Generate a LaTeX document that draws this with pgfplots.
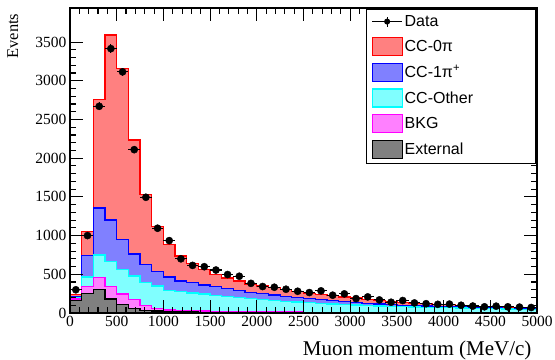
\documentclass[border=0pt]{standalone}
\usepackage{pgfplots}
\usepackage{pgfplotstable}
\pgfplotsset{compat=1.18}
\usepackage{fontspec}
\setmainfont{Liberation Serif}
\newfontfamily\legfont{Liberation Sans}
\definecolor{fred}{RGB}{255,128,128}
\definecolor{fblue}{RGB}{128,128,255}
\definecolor{fcyan}{RGB}{128,255,255}
\definecolor{fmag}{RGB}{255,128,255}
\definecolor{fgray}{RGB}{128,128,128}
\definecolor{lred}{RGB}{255,0,0}
\definecolor{lblue}{RGB}{0,0,255}
\definecolor{lcyan}{RGB}{0,255,255}
\definecolor{lmag}{RGB}{255,0,255}

\pgfplotstableread{
x r b c m g
0 240 215 200 180 160
125 1050 745 466 340 250
250 2757 1355 750 455 305
375 3590 1200 664 340 182
500 3155 953 564 245 110
625 2235 763 478 175 60
750 1530 630 392 100 35
875 1120 535 349 56 25
1000 885 466 295 40 18
1125 737 415 280 32 14
1250 640 395 260 28 12
1375 565 362 245 24 10
1500 497 338 230 22 9
1625 452 314 216 20 8
1750 415 292 200 18 7
1875 374 266 186 16 6
2000 350 250 176 15 6
2125 328 232 165 14 5
2250 305 212 153 13 5
2375 275 197 142 12 5
2500 253 187 135 11 4
2625 243 175 126 11 4
2750 222 162 118 10 4
2875 208 150 110 10 4
3000 195 137 104 9 3
3125 178 127 96 9 3
3250 165 118 91 8 3
3375 147 110 87 8 3
3500 137 101 82 7 3
3625 127 96 78 7 3
3750 120 90 74 7 2
3875 113 85 70 6 2
4000 107 80 67 6 2
4125 100 76 63 6 2
4250 94 72 60 5 2
4375 88 68 57 5 2
4500 83 64 54 5 2
4625 78 61 51 5 2
4750 73 57 48 4 2
4875 68 54 45 4 2
5000 68 54 45 4 2
}\stack

\pgfplotstableread{
x y ex ey
62.5 300 62.5 17
187.5 1000 62.5 32
312.5 2670 62.5 52
437.5 3415 62.5 58
562.5 3115 62.5 56
687.5 2110 62.5 46
812.5 1495 62.5 39
937.5 1095 62.5 33
1062.5 935 62.5 31
1187.5 700 62.5 26
1312.5 615 62.5 25
1437.5 598 62.5 24
1562.5 555 62.5 24
1687.5 497 62.5 22
1812.5 475 62.5 22
1937.5 383 62.5 20
2062.5 342 62.5 18
2187.5 333 62.5 18
2312.5 307 62.5 18
2437.5 281 62.5 17
2562.5 264 62.5 16
2687.5 286 62.5 17
2812.5 230 62.5 15
2937.5 247 62.5 16
3062.5 186 62.5 14
3187.5 208 62.5 14
3312.5 169 62.5 13
3437.5 139 62.5 12
3562.5 161 62.5 13
3687.5 130 62.5 11
3812.5 120 62.5 11
3937.5 112 62.5 11
4062.5 115 62.5 11
4187.5 100 62.5 10
4312.5 90 62.5 9.5
4437.5 80 62.5 9
4562.5 88 62.5 9.4
4687.5 80 62.5 9
4812.5 76 62.5 8.7
4937.5 71 62.5 8.4
}\data

\begin{document}
\begin{tikzpicture}
\begin{axis}[
  name=ax,
  scale only axis, width=467pt, height=305pt,
  xmin=0, xmax=5000, ymin=0, ymax=3940,
  xtick={0,500,...,5000}, ytick={0,500,...,3500},
  minor tick num=4,
  tick align=inside, xtick pos=both, ytick pos=both,
  major tick length=13pt, minor tick length=6.5pt,
  axis line style={line width=1.6pt},
  every tick/.style={black, line width=1.1pt},
  axis on top,
  scaled ticks=false,
  /pgf/number format/assume math mode=true,
  /pgf/number format/set thousands separator={},
  tick label style={font=\fontsize{15.5}{17}\selectfont},
  xlabel={\fontsize{21}{24}\selectfont Muon momentum (MeV/c)},
  xlabel style={at={(axis description cs:1,0)}, anchor=base east, yshift=-42pt, xshift=-2pt},
  ylabel={\fontsize{16.5}{18}\selectfont Events},
  ylabel style={at={(axis description cs:-0.103,0.993)}, anchor=south east},
  legend style={at={(0.998,0.997)}, anchor=north east, draw=black, line width=0.8pt,
    font=\legfont\fontsize{16}{19}\selectfont, row sep=6.8pt, inner xsep=5pt, inner ysep=4pt,
    nodes={text width=124pt, align=left}},
  legend cell align=left,
]
\addlegendimage{legend image code/.code={
  \draw[black, line width=1pt] (0pt,0pt) -- (30pt,0pt);
  \draw[black, line width=1pt] (15pt,-5pt) -- (15pt,5pt);
  \fill[black] (15pt,0pt) circle (2.6pt);}}
\addlegendentry{Data}
\addlegendimage{legend image code/.code={\draw[fill=fred, draw=lred, line width=1.1pt] (0pt,-9pt) rectangle (30pt,9pt);}}
\addlegendentry{CC-0π}
\addlegendimage{legend image code/.code={\draw[fill=fblue, draw=lblue, line width=1.1pt] (0pt,-9pt) rectangle (30pt,9pt);}}
\addlegendentry{CC-1π\textsuperscript{+}}
\addlegendimage{legend image code/.code={\draw[fill=fcyan, draw=lcyan, line width=1.1pt] (0pt,-9pt) rectangle (30pt,9pt);}}
\addlegendentry{CC-Other}
\addlegendimage{legend image code/.code={\draw[fill=fmag, draw=lmag, line width=1.1pt] (0pt,-9pt) rectangle (30pt,9pt);}}
\addlegendentry{BKG}
\addlegendimage{legend image code/.code={\draw[fill=fgray, draw=black, line width=1.1pt] (0pt,-9pt) rectangle (30pt,9pt);}}
\addlegendentry{External}

\addplot[forget plot, const plot, fill=fred, draw=lred, line width=1.3pt] table[x=x, y=r] {\stack} \closedcycle;
\addplot[forget plot, const plot, fill=fblue, draw=lblue, line width=1.3pt] table[x=x, y=b] {\stack} \closedcycle;
\addplot[forget plot, const plot, fill=fcyan, draw=lcyan, line width=1.3pt] table[x=x, y=c] {\stack} \closedcycle;
\addplot[forget plot, const plot, fill=fmag, draw=lmag, line width=1.3pt] table[x=x, y=m] {\stack} \closedcycle;
\addplot[forget plot, const plot, fill=fgray, draw=black, line width=1.3pt] table[x=x, y=g] {\stack} \closedcycle;
\addplot[forget plot, only marks, mark=*, mark size=3.6pt, black,
  error bars/.cd, x dir=both, x explicit, y dir=both, y explicit, error mark=none,
  error bar style={line width=1.1pt, black}]
  table[x=x, y=y, x error=ex, y error=ey] {\data};
\end{axis}
\pgfresetboundingbox
\path[use as bounding box] ([shift={(-70pt,-46pt)}]ax.south west) rectangle ([shift={(18pt,8pt)}]ax.north east);
\end{tikzpicture}
\end{document}
